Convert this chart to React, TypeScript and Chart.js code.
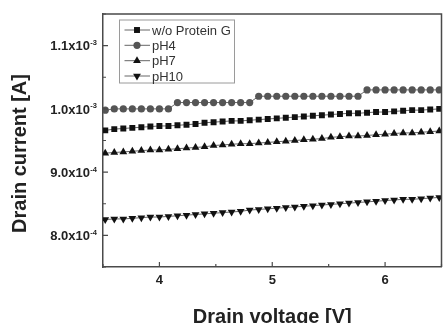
import React, { useEffect, useRef } from 'react';
import { Chart, registerables } from 'chart.js';

Chart.register(...registerables);

// Drain voltage [V]
const voltage = [
  3.52, 3.60, 3.68, 3.76, 3.84, 3.92, 4.00, 4.08, 4.16, 4.24,
  4.32, 4.40, 4.48, 4.56, 4.64, 4.72, 4.80, 4.88, 4.96, 5.04,
  5.12, 5.20, 5.28, 5.36, 5.44, 5.52, 5.60, 5.68, 5.76, 5.84,
  5.92, 6.00, 6.08, 6.16, 6.24, 6.32, 6.40, 6.48,
];

// Drain current in mA (converted to A when plotted)
const woProteinG_mA = [
  0.966, 0.968, 0.969, 0.970, 0.971, 0.972, 0.973, 0.973, 0.974, 0.975,
  0.976, 0.978, 0.979, 0.980, 0.981, 0.981, 0.982, 0.983, 0.984, 0.985,
  0.986, 0.987, 0.988, 0.989, 0.990, 0.991, 0.992, 0.993, 0.993, 0.994,
  0.995, 0.995, 0.996, 0.997, 0.998, 0.998, 0.999, 1.000,
];
const pH4_mA = [
  0.998, 1.000, 1.000, 1.000, 1.000, 1.000, 1.000, 1.000, 1.010, 1.010,
  1.010, 1.010, 1.010, 1.010, 1.010, 1.010, 1.010, 1.020, 1.020, 1.020,
  1.020, 1.020, 1.020, 1.020, 1.020, 1.020, 1.020, 1.020, 1.020, 1.030,
  1.030, 1.030, 1.030, 1.030, 1.030, 1.030, 1.030, 1.030,
];
const pH7_mA = [
  0.930, 0.931, 0.932, 0.933, 0.934, 0.935, 0.935, 0.936, 0.937, 0.938,
  0.939, 0.940, 0.942, 0.943, 0.944, 0.945, 0.945, 0.946, 0.947, 0.948,
  0.949, 0.950, 0.951, 0.952, 0.953, 0.955, 0.956, 0.957, 0.957, 0.958,
  0.959, 0.960, 0.961, 0.962, 0.962, 0.963, 0.964, 0.965,
];
const pH10_mA = [
  0.825, 0.826, 0.826, 0.827, 0.828, 0.829, 0.829, 0.830, 0.831, 0.832,
  0.833, 0.834, 0.835, 0.836, 0.837, 0.838, 0.840, 0.841, 0.842, 0.843,
  0.844, 0.845, 0.846, 0.847, 0.848, 0.849, 0.850, 0.851, 0.852, 0.853,
  0.854, 0.855, 0.856, 0.857, 0.857, 0.858, 0.859, 0.860,
];

const seriesNames = ['w/o Protein G', 'pH4', 'pH7', 'pH10'];

const xMin = 3.5;
const xMax = 6.5;
const xTicks = [4, 5, 6];
const xTickLabels = ['4', '5', '6'];
const xMinorTicks = [3.5, 4.5, 5.5, 6.5];

const yMin = 7.5e-4;
const yMax = 1.15e-3;
const yTicks = [8e-4, 9e-4, 1e-3, 1.1e-3];
const yTickMantissa = ['8.0x10', '9.0x10', '1.0x10', '1.1x10'];
const yTickExponent = ['-4', '-4', '-3', '-3'];
const yMinorTicks = [7.5e-4, 8.5e-4, 9.5e-4, 1.05e-3, 1.15e-3];

const xTitle = 'Drain voltage [V]';
const yTitle = 'Drain current [A]';

const FONT = '"Liberation Sans", Arial, sans-serif';
const AXIS = '#4a4a4a';
const TEXT = '#222222';

type Style = { shape: 'rect' | 'circle' | 'triangle' | 'down'; color: string; radius: number };
const styles: Style[] = [
  { shape: 'rect', color: '#111111', radius: 4.2 },
  { shape: 'circle', color: '#555555', radius: 3.6 },
  { shape: 'triangle', color: '#111111', radius: 4.5 },
  { shape: 'down', color: '#111111', radius: 4.5 },
];

function toPoints(vals: number[]) {
  return voltage.map((v, i) => ({ x: v, y: vals[i] * 1e-3 }));
}

function drawMarker(ctx: CanvasRenderingContext2D, s: Style, x: number, y: number) {
  ctx.save();
  ctx.fillStyle = s.color;
  ctx.beginPath();
  const r = s.radius;
  if (s.shape === 'rect') {
    const h = r * Math.SQRT1_2;
    ctx.rect(x - h, y - h, 2 * h, 2 * h);
  } else if (s.shape === 'circle') {
    ctx.arc(x, y, r, 0, Math.PI * 2);
  } else {
    const dir = s.shape === 'triangle' ? 1 : -1;
    for (let k = 0; k < 3; k++) {
      const a = (k * 2 * Math.PI) / 3;
      const px = x + Math.sin(a) * r;
      const py = y - dir * Math.cos(a) * r;
      if (k === 0) ctx.moveTo(px, py);
      else ctx.lineTo(px, py);
    }
    ctx.closePath();
  }
  ctx.fill();
  ctx.restore();
}

const decorPlugin = {
  id: 'decor',
  beforeDraw(chart: any) {
    const ctx = chart.ctx as CanvasRenderingContext2D;
    ctx.save();
    ctx.fillStyle = '#ffffff';
    ctx.fillRect(0, 0, chart.width, chart.height);
    ctx.restore();
  },
  afterDraw(chart: any) {
    const ctx = chart.ctx as CanvasRenderingContext2D;
    const area = chart.chartArea;
    const xs = chart.scales.x;
    const ys = chart.scales.y;

    ctx.save();
    // frame top & right
    ctx.strokeStyle = AXIS;
    ctx.lineWidth = 1.5;
    ctx.beginPath();
    ctx.moveTo(area.left, area.top);
    ctx.lineTo(area.right, area.top);
    ctx.lineTo(area.right, area.bottom);
    ctx.stroke();

    // inward ticks
    ctx.lineWidth = 1.2;
    ctx.beginPath();
    xTicks.forEach((t) => {
      const px = xs.getPixelForValue(t);
      ctx.moveTo(px, area.bottom);
      ctx.lineTo(px, area.bottom - 5);
    });
    xMinorTicks.forEach((t) => {
      const px = xs.getPixelForValue(t);
      ctx.moveTo(px, area.bottom);
      ctx.lineTo(px, area.bottom - 3);
    });
    yTicks.forEach((t) => {
      const py = ys.getPixelForValue(t);
      ctx.moveTo(area.left, py);
      ctx.lineTo(area.left + 5, py);
    });
    yMinorTicks.forEach((t) => {
      const py = ys.getPixelForValue(t);
      ctx.moveTo(area.left, py);
      ctx.lineTo(area.left + 3, py);
    });
    ctx.stroke();

    // x tick labels
    ctx.fillStyle = TEXT;
    ctx.font = `bold 13px ${FONT}`;
    ctx.textAlign = 'center';
    ctx.textBaseline = 'alphabetic';
    xTicks.forEach((t, i) => {
      ctx.fillText(xTickLabels[i], xs.getPixelForValue(t), area.bottom + 16.5);
    });

    // y tick labels with superscript exponent
    const right = area.left - 6;
    yTicks.forEach((t, i) => {
      const py = ys.getPixelForValue(t);
      ctx.font = `bold 7.5px ${FONT}`;
      ctx.textAlign = 'right';
      const ew = ctx.measureText(yTickExponent[i]).width;
      ctx.fillText(yTickExponent[i], right, py - 0.5);
      ctx.font = `bold 13px ${FONT}`;
      ctx.fillText(yTickMantissa[i], right - ew - 0.3, py + 4.7);
    });

    // axis titles
    ctx.font = `bold 20px ${FONT}`;
    ctx.textAlign = 'center';
    ctx.fillText(xTitle, (area.left + area.right) / 2, 322.5);
    ctx.save();
    ctx.translate(26, 153.5);
    ctx.rotate(-Math.PI / 2);
    ctx.fillText(yTitle, 0, 0);
    ctx.restore();

    // legend
    const lx = 119.5, ly = 20, lw = 115, lh = 63;
    ctx.strokeStyle = '#9a9a9a';
    ctx.lineWidth = 1;
    ctx.strokeRect(lx, ly, lw, lh);
    const rows = [30, 45.3, 60.7, 76];
    ctx.font = `13px ${FONT}`;
    ctx.textAlign = 'left';
    seriesNames.forEach((name, i) => {
      const y = rows[i];
      ctx.strokeStyle = '#666666';
      ctx.lineWidth = 1;
      ctx.beginPath();
      ctx.moveTo(124.5, y);
      ctx.lineTo(150, y);
      ctx.stroke();
      drawMarker(ctx, styles[i], 137, y);
      ctx.fillStyle = '#333333';
      ctx.fillText(name, 152, y + 4.6);
    });
    ctx.restore();
  },
};

export default function App() {
  const ref = useRef<HTMLCanvasElement>(null);
  useEffect(() => {
    const series = [woProteinG_mA, pH4_mA, pH7_mA, pH10_mA];
    const datasets = series.map((vals, i) => ({
      label: seriesNames[i],
      data: toPoints(vals),
      borderColor: '#666666',
      borderWidth: 1,
      pointStyle: styles[i].shape === 'down' ? 'triangle' : styles[i].shape,
      pointRotation: styles[i].shape === 'down' ? 180 : 0,
      pointRadius: styles[i].radius,
      pointBackgroundColor: styles[i].color,
      pointBorderColor: styles[i].color,
      pointBorderWidth: 0,
      tension: 0,
      fill: false,
    }));
    const chart = new Chart(ref.current as HTMLCanvasElement, {
      type: 'line',
      data: { datasets } as any,
      options: {
        animation: false,
        responsive: true,
        maintainAspectRatio: false,
        layout: { padding: { left: 103, top: 14, right: 1, bottom: 56 } },
        plugins: { legend: { display: false }, tooltip: { enabled: false } },
        scales: {
          x: {
            type: 'linear',
            min: xMin,
            max: xMax,
            ticks: { display: false },
            grid: { display: false, drawTicks: false },
            border: { display: true, color: AXIS, width: 1.5 },
            afterFit: (s: any) => { s.height = 0; },
          },
          y: {
            type: 'linear',
            min: yMin,
            max: yMax,
            ticks: { display: false },
            grid: { display: false, drawTicks: false },
            border: { display: true, color: AXIS, width: 1.5 },
            afterFit: (s: any) => { s.width = 0; },
          },
        },
      } as any,
      plugins: [decorPlugin],
    });
    return () => chart.destroy();
  }, []);
  return (
    <div style={{ position: 'absolute', left: 0, top: 0, width: 446, height: 323 }}>
      <canvas ref={ref} />
    </div>
  );
}
